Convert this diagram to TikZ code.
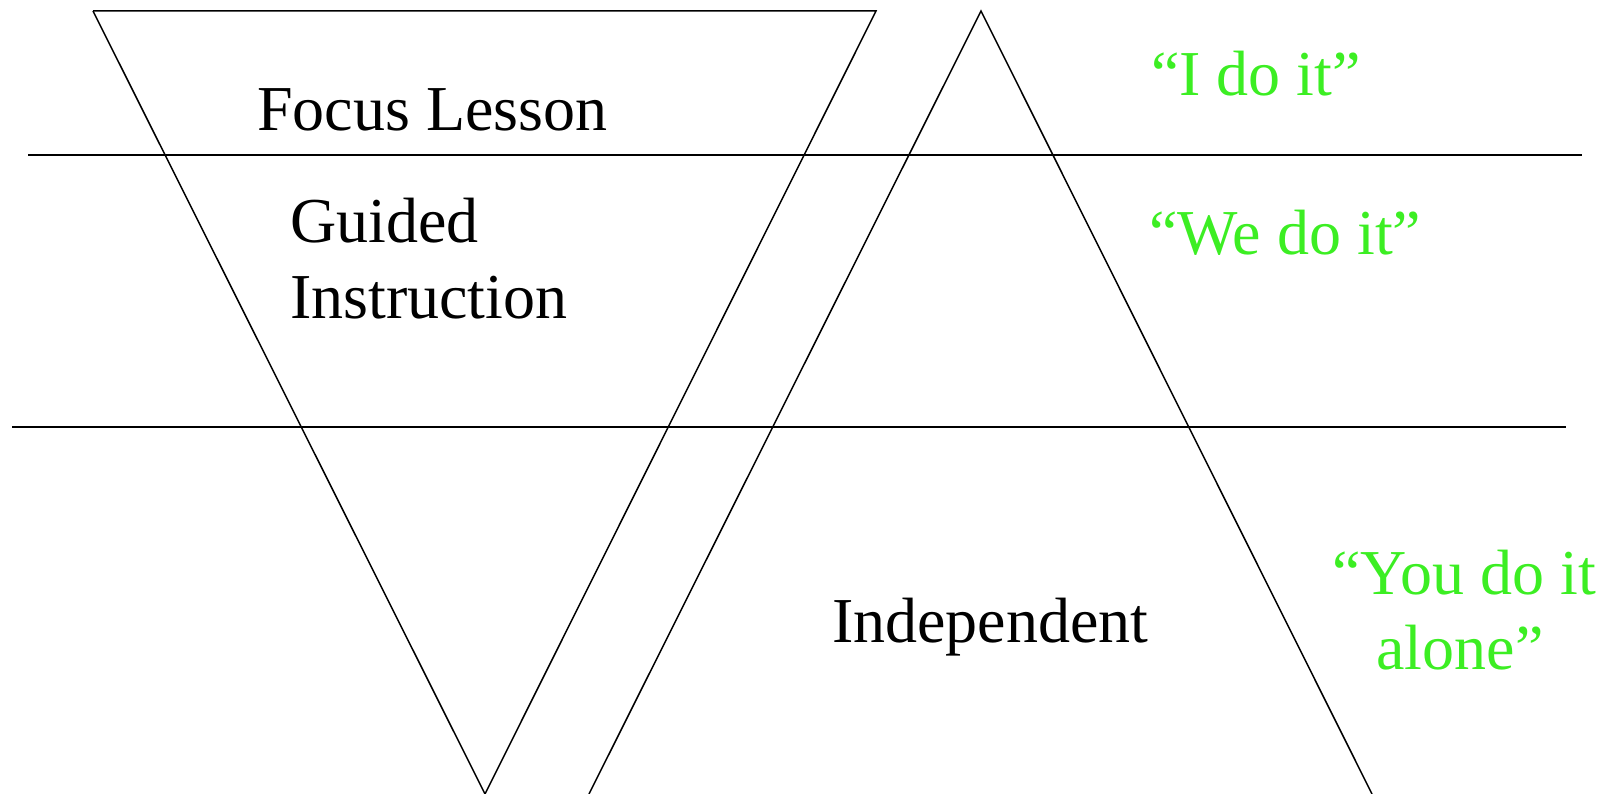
\documentclass[tikz,border=0pt]{standalone}
\usepackage{fontspec}
\setmainfont{Liberation Serif}
\definecolor{saygreen}{RGB}{60,238,35}
\begin{document}
\begin{tikzpicture}[x=1pt,y=-1pt,
  shape line/.style={line width=1.5pt, black},
  label text/.style={inner sep=0pt, font=\fontsize{64}{75}\selectfont},
  say text/.style={label text, text=saygreen}]
\useasboundingbox (0,0) rectangle (1611,794);
% triangles
\draw[shape line] (93,11) -- (876,11) -- (485,794);
\draw[shape line, line join=miter] (93,11) -- (485,794);
\draw[shape line] (589,794) -- (981,11) -- (1372,794);
% horizontal lines
\draw[shape line] (28,155) -- (1582,155);
\draw[shape line] (12,427) -- (1566,427);
% labels
\node[label text, anchor=base west] (focus) at (257,131) {Focus Lesson};
\node[label text, anchor=base west] (guided) at (290,243) {Guided};
\node[label text, anchor=base west] (instr) at (290,318) {Instruction};
\node[label text, anchor=base west] (indep) at (832,642) {Independent};
% green sayings
\node[say text, anchor=base west] (ido) at (1151,96) {``I do it''};
\node[say text, anchor=base west] (wedo) at (1149,255) {``We do it''};
\node[say text, anchor=base] (youdo) at (1464,594) {``You do it};
\node[say text, anchor=base] (alone) at (1460,669) {alone''};
\end{tikzpicture}
\end{document}
